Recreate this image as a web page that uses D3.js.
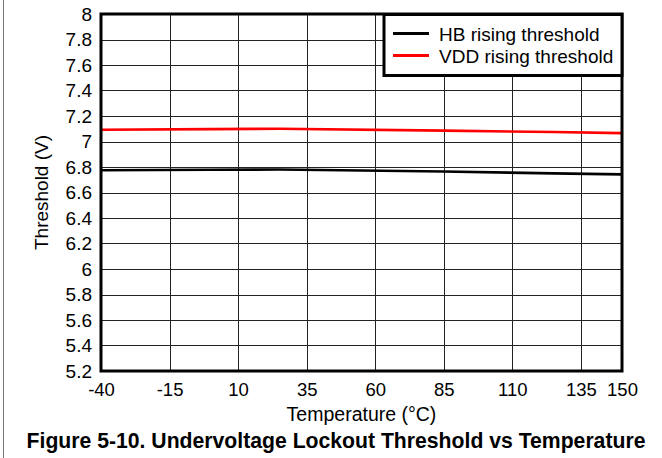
<!DOCTYPE html>
<html><head><meta charset="utf-8">
<script src="https://cdn.jsdelivr.net/npm/d3@7"></script>
<style>body{margin:0;background:#fff}svg{display:block}text{font-family:"Liberation Sans",Arial,sans-serif}</style>
</head><body><svg id="c" width="662" height="458"></svg>
<script>
const temps = [-40, 0, 25, 85, 125, 150];
const hbRising = [6.775, 6.778, 6.78, 6.765, 6.75, 6.742];
const vddRising = [7.092, 7.097, 7.1, 7.085, 7.074, 7.066];
const xTicks = [-40, -15, 10, 35, 60, 85, 110, 135, 150];
const yTicks = [5.2, 5.4, 5.6, 5.8, 6, 6.2, 6.4, 6.6, 6.8, 7, 7.2, 7.4, 7.6, 7.8, 8];
const seriesNames = ["HB rising threshold", "VDD rising threshold"];
const seriesColors = ["#000000", "#ff0000"];

const svg = d3.select("#c");
const L = 101, R = 622, T = 14, B = 371;
const x = d3.scaleLinear().domain([-40, 150]).range([L, R]);
const y = d3.scaleLinear().domain([5.2, 8]).range([B, T]);
const fmt = d => String(+d.toFixed(1));

// outer left border
svg.append("line").attr("x1", 3.5).attr("x2", 3.5).attr("y1", 0).attr("y2", 458).attr("stroke", "#777").attr("stroke-width", 1);

// grid
svg.append("g").selectAll("line").data(yTicks).join("line")
  .attr("x1", L).attr("x2", R).attr("y1", d => Math.round(y(d)) + 0.5).attr("y2", d => Math.round(y(d)) + 0.5)
  .attr("stroke", "#222").attr("stroke-width", 1);
svg.append("g").selectAll("line").data(xTicks).join("line")
  .attr("y1", T).attr("y2", B).attr("x1", d => Math.round(x(d)) + 0.5).attr("x2", d => Math.round(x(d)) + 0.5)
  .attr("stroke", "#222").attr("stroke-width", 1);

// series
const line = d3.line().x(d => x(d[0])).y(d => y(d[1]));
[hbRising, vddRising].forEach((vals, i) => {
  svg.append("path").datum(temps.map((t, j) => [t, vals[j]]))
    .attr("d", line).attr("fill", "none").attr("stroke", seriesColors[i]).attr("stroke-width", 2.6);
});

// frame
svg.append("rect").attr("x", L).attr("y", T).attr("width", R - L).attr("height", B - T)
  .attr("fill", "none").attr("stroke", "#000").attr("stroke-width", 3);

// axes labels
const yAxis = d3.axisLeft(y).tickValues(yTicks).tickSize(0).tickPadding(9).tickFormat(fmt);
const gy = svg.append("g").attr("transform", `translate(${L},0)`).call(yAxis);
gy.select(".domain").remove();
gy.selectAll("text").attr("font-size", 19).attr("fill", "#000").style("font-family", '"Liberation Sans",Arial,sans-serif');

const xAxis = d3.axisBottom(x).tickValues(xTicks).tickSize(0).tickPadding(12).tickFormat(fmt);
const gx = svg.append("g").attr("transform", `translate(0,${B})`).call(xAxis);
gx.select(".domain").remove();
gx.selectAll("text").attr("font-size", 18.5).attr("fill", "#000").style("font-family", '"Liberation Sans",Arial,sans-serif');

svg.append("text").attr("x", (L + R) / 2).attr("y", 421).attr("text-anchor", "middle").attr("font-size", 19.5).text("Temperature (°C)");
svg.append("text").attr("transform", `translate(48,${(T + B) / 2}) rotate(-90)`).attr("text-anchor", "middle").attr("font-size", 19).text("Threshold (V)");
svg.append("text").attr("x", 336).attr("y", 448).attr("text-anchor", "middle").attr("font-size", 21.2).attr("font-weight", "bold").text("Figure 5-10. Undervoltage Lockout Threshold vs Temperature");

// legend
svg.append("rect").attr("x", 384).attr("y", 14.5).attr("width", 238).attr("height", 61).attr("fill", "#fff").attr("stroke", "#000").attr("stroke-width", 3);
const lg = svg.append("g").selectAll("g").data(seriesNames).join("g").attr("transform", (d, i) => `translate(393,${33.5 + i * 22})`);
lg.append("line").attr("x1", 0).attr("x2", 36).attr("stroke", (d, i) => seriesColors[i]).attr("stroke-width", 3);
lg.append("text").attr("x", 46).attr("y", 7).attr("font-size", 19).text(d => d);
</script></body></html>
